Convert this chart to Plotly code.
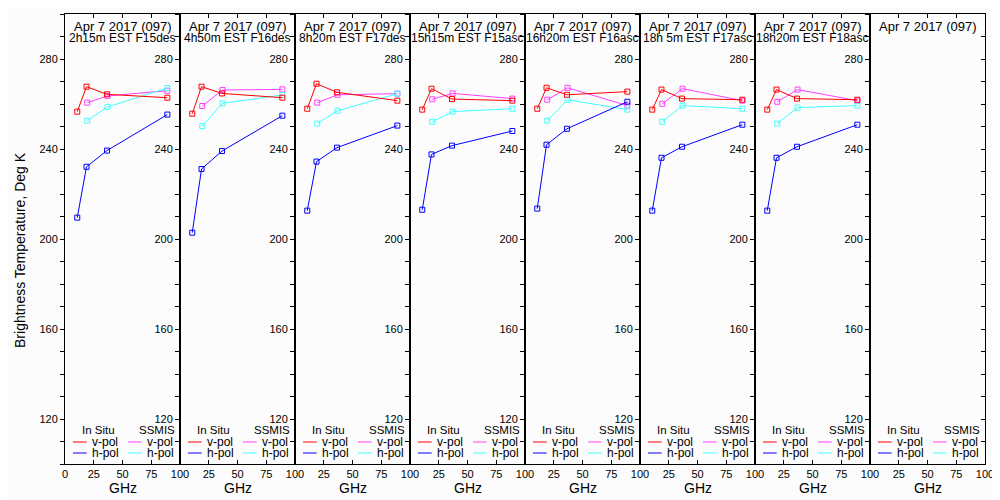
import plotly.graph_objects as go

# ---------------- data ----------------
INSITU_GHZ = [10.65, 18.7, 36.5, 89.0]
SSMIS_GHZ = [19.35, 37.0, 89.0]

PANEL_DATE = "Apr 7 2017 (097)"
PANEL_LABELS = [
    "2h15m EST F15des",
    "4h50m EST F16des",
    "8h20m EST F17des",
    "15h15m EST F15asc",
    "16h20m EST F16asc",
    "18h 5m EST F17asc",
    "18h20m EST F18asc",
    "",
]

insitu_v = [
    [256.6, 267.7, 264.3, 262.8],
    [255.7, 267.7, 264.7, 262.8],
    [257.9, 269.0, 265.2, 261.5],
    [257.5, 266.8, 262.2, 261.5],
    [257.9, 267.2, 264.1, 265.5],
    [257.5, 266.4, 262.4, 261.9],
    [257.5, 266.4, 262.4, 261.9],
    [],
]
insitu_h = [
    [209.5, 232.1, 239.3, 255.3],
    [202.8, 231.1, 239.1, 254.8],
    [212.6, 234.4, 240.6, 250.4],
    [213.0, 237.6, 241.5, 248.0],
    [213.5, 241.9, 249.0, 261.0],
    [212.6, 236.1, 241.0, 250.8],
    [212.6, 236.1, 241.0, 250.8],
    [],
]
ssmis_v = [
    [260.6, 263.6, 265.9],
    [259.1, 266.2, 266.5],
    [260.6, 264.1, 264.6],
    [262.1, 264.7, 262.4],
    [261.9, 267.2, 259.3],
    [260.1, 266.8, 261.5],
    [261.0, 266.4, 261.5],
    [],
]
ssmis_h = [
    [252.6, 258.7, 267.1],
    [250.2, 260.3, 264.0],
    [251.3, 257.0, 264.6],
    [252.1, 256.6, 257.9],
    [252.6, 261.9, 257.5],
    [252.1, 259.3, 257.9],
    [251.3, 258.4, 259.3],
    [],
]

Y_RANGE = [100, 300]
X_RANGE = [0, 100]
X_TICKS_FIRST = [0, 25, 50, 75, 100]
X_TICKS_OTHER = [25, 50, 75, 100]

# ---------------- styling ----------------
RED, BLUE, MAG, CYAN = "#ff0000", "#0000ff", "#ff40ff", "#40ffff"
FONT = "Liberation Sans, Arial, sans-serif"
BG = "#fcfcfc"
N = len(PANEL_LABELS)

fig = go.Figure()
# the page body adds an 8px offset; margins compensate so the plot area
# sits at x 65..985, y 14..464 in the window
layout = dict(
    width=992, height=492,
    margin=dict(l=57, r=15, t=6, b=36),
    paper_bgcolor=BG, plot_bgcolor=BG,
    showlegend=False,
    font=dict(family=FONT, color="black"),
)

annotations = []
shapes = []
W = 115.0  # panel width in px
H = 450.0  # panel height in px

for i in range(N):
    xn = "" if i == 0 else str(i + 1)
    xa, ya = "x" + xn, "y" + xn
    d0, d1 = i / N, (i + 1) / N

    series = [
        (SSMIS_GHZ, ssmis_v[i], MAG),
        (SSMIS_GHZ, ssmis_h[i], CYAN),
        (INSITU_GHZ, insitu_h[i], BLUE),
        (INSITU_GHZ, insitu_v[i], RED),
    ]
    for xs, ys, col in series:
        if len(ys):
            fig.add_trace(go.Scatter(
                x=xs, y=ys, mode="lines+markers", xaxis=xa, yaxis=ya,
                line=dict(color=col, width=1),
                marker=dict(symbol="square-open", size=5, color=col, line=dict(width=1, color=col)),
                hoverinfo="skip",
            ))
    if not any(len(s[1]) for s in series):
        fig.add_trace(go.Scatter(x=[None], y=[None], xaxis=xa, yaxis=ya, hoverinfo="skip"))

    layout["xaxis" + xn] = dict(
        domain=[d0, d1], range=X_RANGE, anchor=ya,
        tickvals=X_TICKS_FIRST if i == 0 else X_TICKS_OTHER,
        ticks="inside", ticklen=4, tickcolor="black",
        showline=True, linecolor="black", linewidth=1, mirror="ticks",
        showgrid=False, zeroline=False,
        tickfont=dict(size=11, family=FONT),
    )
    layout["yaxis" + xn] = dict(
        domain=[0, 1], range=Y_RANGE, anchor=xa,
        tick0=120, dtick=40,
        ticks="outside", ticklen=4, tickcolor="black",
        minor=dict(dtick=10, tick0=0, ticks="outside", ticklen=4, tickcolor="black"),
        showline=True, linecolor="black", linewidth=1, mirror=True,
        showgrid=False, zeroline=False,
        tickfont=dict(size=11, family=FONT),
    )

    xd = xa + " domain"
    yd = ya + " domain"
    # panel titles
    annotations.append(dict(xref=xd, yref=yd, x=0.5, y=0.9733, text=PANEL_DATE,
                            showarrow=False, xanchor="center", yanchor="middle",
                            font=dict(size=13, family=FONT)))
    if PANEL_LABELS[i]:
        annotations.append(dict(xref=xd, yref=yd, x=0.5, y=0.9467, text=PANEL_LABELS[i],
                                showarrow=False, xanchor="center", yanchor="middle",
                                font=dict(size=12, family=FONT)))
    # x axis title
    annotations.append(dict(xref=xd, yref="paper", x=0.5, y=-0.0533, text="GHz",
                            showarrow=False, xanchor="center", yanchor="middle",
                            font=dict(size=14, family=FONT)))
    # legend
    annotations.append(dict(xref=xd, yref=yd, x=15 / W, y=34 / H, text="In Situ",
                            showarrow=False, xanchor="left", yanchor="middle",
                            font=dict(size=11.5, family=FONT)))
    annotations.append(dict(xref=xd, yref=yd, x=72 / W, y=34 / H, text="SSMIS",
                            showarrow=False, xanchor="left", yanchor="middle",
                            font=dict(size=11.5, family=FONT)))
    for (lx0, lx1, tx, yy, col, lab) in [
        (8, 21.7, 25, 22 / H, RED, "v-pol"),
        (8, 21.7, 25, 11 / H, BLUE, "h-pol"),
        (63, 76.7, 80, 22 / H, MAG, "v-pol"),
        (63, 76.7, 80, 11 / H, CYAN, "h-pol"),
    ]:
        shapes.append(dict(type="line", xref=xd, yref=yd, x0=lx0 / W, x1=lx1 / W,
                           y0=yy, y1=yy, line=dict(color=col, width=1)))
        annotations.append(dict(xref=xd, yref=yd, x=tx / W, y=yy, text=lab,
                                showarrow=False, xanchor="left", yanchor="middle",
                                font=dict(size=12, family=FONT)))

# right-hand inward ticks on the last panel
layout["yaxis" + str(N + 1)] = dict(
    overlaying="y" + str(N), side="right", anchor="x" + str(N), range=Y_RANGE,
    tick0=120, dtick=40, ticks="inside", ticklen=4, tickcolor="black",
    minor=dict(dtick=10, tick0=0, ticks="inside", ticklen=4, tickcolor="black"),
    showticklabels=False, showgrid=False, zeroline=False, showline=False,
)
fig.add_trace(go.Scatter(x=[None], y=[None], xaxis="x" + str(N), yaxis="y" + str(N + 1), hoverinfo="skip"))

annotations.append(dict(xref="paper", yref="paper", x=(20 - 65) / 920, y=0.4756,
                        text="Brightness Temperature, Deg K", textangle=-90,
                        showarrow=False, xanchor="center", yanchor="middle",
                        font=dict(size=14, family=FONT)))

layout["annotations"] = annotations
layout["shapes"] = shapes
fig.update_layout(**layout)
fig.write_html("out.html")
